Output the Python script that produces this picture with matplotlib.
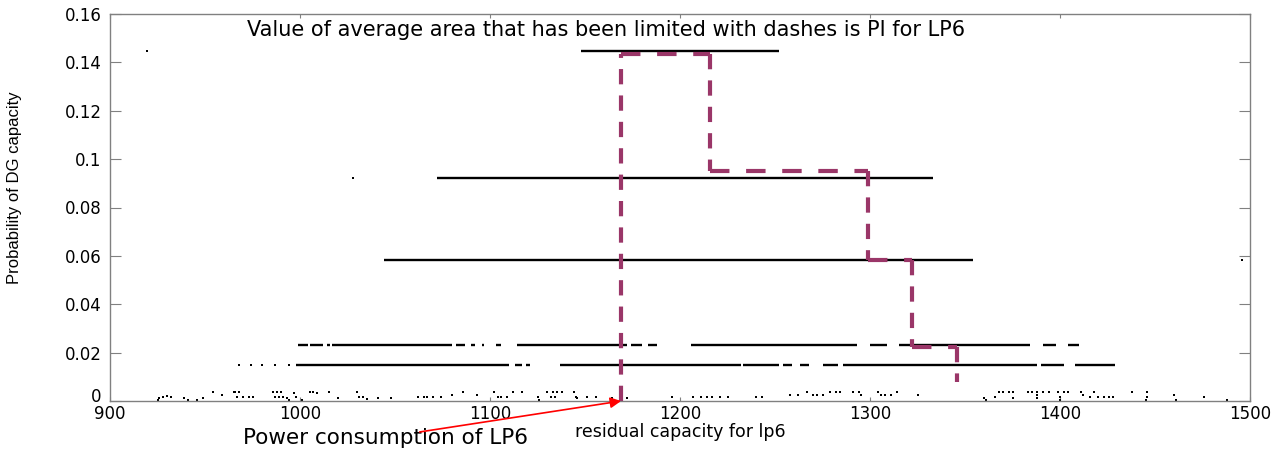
import matplotlib
matplotlib.use("Agg")
import matplotlib.pyplot as plt
from matplotlib.transforms import ScaledTranslation

plt.rcParams["font.family"] = ["DejaVu Sans"]
plt.rcParams["lines.scale_dashes"] = False

# Probability levels of DG capacity and the residual-capacity spans (dense runs of samples)
level_values = [0.1445, 0.092, 0.0585, 0.0231, 0.0149]
level_spans = [
    [(1148, 1252)],
    [(1072, 1333)],
    [(1044, 1354)],
    [(999, 1004), (1005, 1012), (1014, 1016), (1017, 1080), (1082, 1087),
     (1090, 1092), (1096, 1097), (1103, 1106), (1114, 1172), (1174, 1180),
     (1183, 1188), (1206, 1293), (1300, 1309), (1315, 1384), (1391, 1398),
     (1404, 1410)],
    [(998, 1110), (1113, 1117), (1119, 1121), (1137, 1232), (1233, 1252),
     (1254, 1259), (1263, 1268), (1275, 1283), (1286, 1388), (1390, 1402),
     (1408, 1429)],
]
# isolated samples on the same levels
level_points = [[919.5], [1028], [1496], [], [968, 974, 980, 987, 994]]

# low-probability samples near zero
low_x = [925, 926, 928, 930, 932, 939, 941, 946, 949, 954, 959,
         965, 966, 968, 967, 970, 973, 975, 986, 988, 990, 987, 989, 991, 993, 994,
         997, 998, 1001, 1005, 1007, 1009, 1015, 1020, 1030, 1031, 1033, 1035,
         1041, 1048, 1062, 1065, 1067, 1070, 1074, 1080, 1086, 1093,
         1102, 1104, 1106, 1109, 1112, 1117, 1125, 1126, 1130, 1133, 1135, 1138,
         1132, 1134, 1144, 1145, 1146, 1151, 1156, 1164, 1172, 1196,
         1207, 1211, 1214, 1217, 1221, 1225, 1240, 1243, 1258, 1262,
         1267, 1270, 1272, 1275, 1279, 1282, 1284, 1291, 1294, 1295,
         1304, 1306, 1308, 1311, 1314, 1325, 1360, 1361, 1366, 1368, 1370, 1373,
         1375, 1375, 1383, 1385, 1388, 1391, 1394, 1388, 1388, 1399, 1402, 1404,
         1400, 1400, 1411, 1412, 1418, 1416, 1420, 1423, 1426, 1428,
         1438, 1446, 1445, 1446, 1460, 1461, 1476, 1488]
low_y = [0.0004, 0.0012, 0.0017, 0.0021, 0.0017, 0.0012, 0.0004, 0.0004, 0.0012, 0.0037, 0.0025,
         0.0037, 0.0037, 0.0037, 0.0017, 0.0017, 0.0017, 0.0017, 0.0037, 0.0037, 0.0037, 0.0017, 0.0017, 0.0017, 0.0012, 0.0004,
         0.0033, 0.0017, 0.0004, 0.0037, 0.0037, 0.0033, 0.0037, 0.0012, 0.0037, 0.0017, 0.0017, 0.0008,
         0.0012, 0.0012, 0.0017, 0.0017, 0.0017, 0.0017, 0.0017, 0.0025, 0.0037, 0.0025,
         0.0037, 0.0017, 0.0017, 0.0017, 0.0037, 0.0037, 0.0017, 0.0004, 0.0037, 0.0037, 0.0037, 0.0037,
         0.0017, 0.0017, 0.0037, 0.0017, 0.0012, 0.0017, 0.0017, 0.0012, 0.0012, 0.0017,
         0.0017, 0.0017, 0.0017, 0.0017, 0.0017, 0.0017, 0.0017, 0.0017, 0.0025, 0.0025,
         0.0037, 0.0025, 0.0025, 0.0025, 0.0037, 0.0037, 0.0037, 0.0037, 0.0037, 0.0025,
         0.0037, 0.0025, 0.0025, 0.0025, 0.0037, 0.0025, 0.0012, 0.0004, 0.0017, 0.0037, 0.0037, 0.0037,
         0.0037, 0.0012, 0.0037, 0.0037, 0.0037, 0.0037, 0.0037, 0.0025, 0.0012, 0.0037, 0.0037, 0.0037,
         0.0017, 0.0004, 0.0037, 0.0025, 0.0037, 0.0017, 0.0017, 0.0017, 0.0017, 0.0017,
         0.0037, 0.0037, 0.0004, 0.0017, 0.0025, 0.0004, 0.0017, 0.0004]

# Stepped boundary of the PI area for LP6
pi_x = [1169, 1169, 1216, 1216, 1299, 1299, 1322, 1322, 1346, 1346]
pi_y = [0.0, 0.1435, 0.1435, 0.095, 0.095, 0.0585, 0.0585, 0.0222, 0.0222, 0.0078]

lp6_power = 1169

x_ticks = [900, 1000, 1100, 1200, 1300, 1400, 1500]
y_ticks = [0, 0.02, 0.04, 0.06, 0.08, 0.1, 0.12, 0.14, 0.16]
y_tick_labels = ["0", "0.02", "0.04", "0.06", "0.08", "0.1", "0.12", "0.14", "0.16"]

fig = plt.figure(figsize=(12.84, 4.49), dpi=100)
ax = fig.add_axes([110 / 1284, 48 / 449, 1140 / 1284, 387 / 449])

# sample clouds
for lvl, spans, pts in zip(level_values, level_spans, level_points):
    ax.hlines([lvl] * len(spans), [s[0] for s in spans], [s[1] for s in spans],
              colors="black", linewidth=1.7, zorder=2)
    if pts:
        ax.plot(pts, [lvl] * len(pts), "s", color="black", markersize=2.0,
                markeredgewidth=0, zorder=2)
ax.plot(low_x, low_y, "s", color="black", markersize=2.1, markeredgewidth=0,
        zorder=2, clip_on=False)

# dashed PI boundary, vertical and horizontal pieces
pi_color = "#9a3668"
for i in range(len(pi_x) - 1):
    vertical = pi_x[i] == pi_x[i + 1]
    dash = (0, (11, 8)) if vertical else (0, (14, 12))
    ax.plot(pi_x[i:i + 2], pi_y[i:i + 2], color=pi_color, linewidth=3.0,
            linestyle=dash, dash_capstyle="butt", zorder=3, clip_on=False)

ax.set_xlim(900, 1500)
ax.set_ylim(0, 0.16)
ax.set_xticks(x_ticks)
ax.set_xticklabels([str(t) for t in x_ticks])
ax.set_yticks(y_ticks)
ax.set_yticklabels(y_tick_labels)

for sp in ax.spines.values():
    sp.set_color("#808080")
    sp.set_linewidth(1.0)
ax.tick_params(axis="both", direction="in", colors="#808080", labelcolor="black",
               labelsize=12, top=True, right=True)
ax.tick_params(axis="y", length=8, pad=6)
ax.tick_params(axis="x", length=3, pad=3)

# lift the zero label a little so it clears the first x label
zero_label = ax.get_yticklabels()[0]
zero_label.set_transform(zero_label.get_transform()
                         + ScaledTranslation(0, 4 / 72, fig.dpi_scale_trans))

ax.set_xlabel("residual capacity for lp6", fontsize=12.5, labelpad=0)
ax.set_ylabel("Probability of DG capacity", fontsize=12,
              family=["Liberation Sans", "DejaVu Sans"])
ax.yaxis.set_label_coords(-0.077, 0.552)

ax.text(1161, 0.1534, "Value of average area that has been limited with dashes is PI for LP6",
        ha="center", va="center", fontsize=15)

ax.text(1045, -0.0155, "Power consumption of LP6", ha="center", va="center",
        fontsize=15.5, clip_on=False)
ax.annotate("", xy=(lp6_power, 0.0), xytext=(1063, -0.0128),
            arrowprops=dict(arrowstyle="-|>", color="red", lw=1.2, mutation_scale=16,
                            shrinkA=0, shrinkB=0),
            annotation_clip=False)

fig.savefig("out.png", dpi=100, facecolor="white")
